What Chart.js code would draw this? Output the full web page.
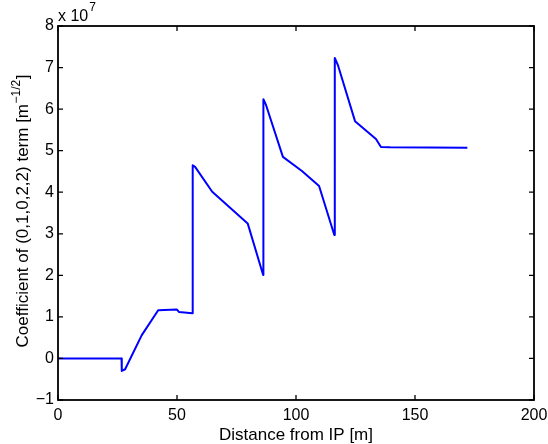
<!DOCTYPE html>
<html>
<head>
<meta charset="utf-8">
<script src="https://cdn.jsdelivr.net/npm/chart.js@4.4.1/dist/chart.umd.min.js"></script>
<style>
  html, body { margin: 0; padding: 0; background: #fff; }
  canvas { display: block; }
</style>
</head>
<body>
<canvas id="chart" width="548" height="444"></canvas>
<script>
// distance from IP [m]
const distance = [0, 26.7, 26.8, 28.2, 35.2, 42.1, 49.9, 50.8, 56.5, 56.6, 57.6, 64.8, 79.7, 86.2,
    86.3, 87.4, 94.5, 102.5, 109.7, 116.1, 116.3, 117.6, 124.8, 133.6, 135.7, 139.5, 172];
// coefficient, in units of 1e7
const coefficient = [0, 0, -0.30, -0.26, 0.56, 1.16, 1.18, 1.12, 1.09, 4.65, 4.61, 4.01, 3.25, 2.01,
    6.24, 6.10, 4.85, 4.51, 4.15, 2.97, 7.23, 7.06, 5.71, 5.28, 5.09, 5.08, 5.07];
const xTicks = [0, 50, 100, 150, 200];
const yTicks = [-1, 0, 1, 2, 3, 4, 5, 6, 7, 8];

const FONT = "'Liberation Sans', Arial, Helvetica, sans-serif";

// 枠・内向き目盛り・軸タイトル
const framePlugin = {
    id: 'frame',
    afterDraw(chart) {
        const ctx = chart.ctx;
        const a = chart.chartArea;
        const xs = chart.scales.x, ys = chart.scales.y;
        ctx.save();
        ctx.strokeStyle = '#000';
        ctx.lineWidth = 1.8;
        ctx.strokeRect(a.left, a.top, a.right - a.left, a.bottom - a.top);
        ctx.lineWidth = 1.3;
        ctx.beginPath();
        xTicks.forEach(v => {
            const px = xs.getPixelForValue(v);
            ctx.moveTo(px, a.bottom); ctx.lineTo(px, a.bottom - 5);
            ctx.moveTo(px, a.top); ctx.lineTo(px, a.top + 5);
        });
        yTicks.forEach(v => {
            const py = ys.getPixelForValue(v);
            ctx.moveTo(a.left, py); ctx.lineTo(a.left + 5, py);
            ctx.moveTo(a.right, py); ctx.lineTo(a.right - 5, py);
        });
        ctx.stroke();

        ctx.fillStyle = '#000';
        // x title
        ctx.font = '17px ' + FONT;
        ctx.textAlign = 'center';
        ctx.textBaseline = 'alphabetic';
        ctx.fillText('Distance from IP [m]', (a.left + a.right) / 2, 440);

        // exponent label
        ctx.textAlign = 'left';
        ctx.font = '16px ' + FONT;
        ctx.fillText('x 10', 58, 21);
        const w10 = ctx.measureText('x 10').width;
        ctx.font = '12px ' + FONT;
        ctx.fillText('7', 58 + w10 + 1, 11);

        // y title with superscript
        ctx.translate(28, 211);
        ctx.rotate(-Math.PI / 2);
        const main = 'Coefficient of (0,1,0,2,2) term [m';
        const sup = '\u22121/2';
        ctx.font = '17px ' + FONT;
        const wMain = ctx.measureText(main).width;
        const wEnd = ctx.measureText(']').width;
        ctx.font = '12px ' + FONT;
        const wSup = ctx.measureText(sup).width;
        const x0 = -(wMain + wSup + wEnd + 1) / 2;
        ctx.font = '17px ' + FONT;
        ctx.fillText(main, x0, 0);
        ctx.font = '12px ' + FONT;
        ctx.fillText(sup, x0 + wMain + 0.5, -8);
        ctx.font = '17px ' + FONT;
        ctx.fillText(']', x0 + wMain + wSup + 1, 0);
        ctx.restore();
    }
};

new Chart(document.getElementById('chart').getContext('2d'), {
    type: 'line',
    data: {
        datasets: [{
            data: distance.map((d, i) => ({ x: d, y: coefficient[i] })),
            borderColor: '#0000ff',
            borderWidth: 2,
            borderJoinStyle: 'round',
            pointRadius: 0,
            tension: 0,
            fill: false
        }]
    },
    options: {
        responsive: false,
        animation: false,
        layout: { padding: { top: 26, right: 14, left: 0, bottom: 0 } },
        plugins: { legend: { display: false }, tooltip: { enabled: false } },
        scales: {
            x: {
                type: 'linear',
                min: 0, max: 200,
                afterFit(scale) {
                    scale.height = 44;
                    scale.paddingLeft = 0;
                    scale.paddingRight = 0;
                },
                afterBuildTicks(scale) { scale.ticks = xTicks.map(v => ({ value: v })); },
                grid: { display: false, drawTicks: false },
                border: { display: false },
                ticks: { color: '#000', font: { family: FONT, size: 16 }, padding: 6, maxRotation: 0 }
            },
            y: {
                type: 'linear',
                min: -1, max: 8,
                afterFit(scale) {
                    scale.width = 58;
                    scale.paddingTop = 0;
                    scale.paddingBottom = 0;
                },
                afterBuildTicks(scale) { scale.ticks = yTicks.map(v => ({ value: v })); },
                grid: { display: false, drawTicks: false },
                border: { display: false },
                ticks: {
                    color: '#000', font: { family: FONT, size: 16 }, padding: 4,
                    callback: v => String(v).replace('-', '\u2212')
                }
            }
        }
    },
    plugins: [framePlugin]
});
</script>
</body>
</html>
